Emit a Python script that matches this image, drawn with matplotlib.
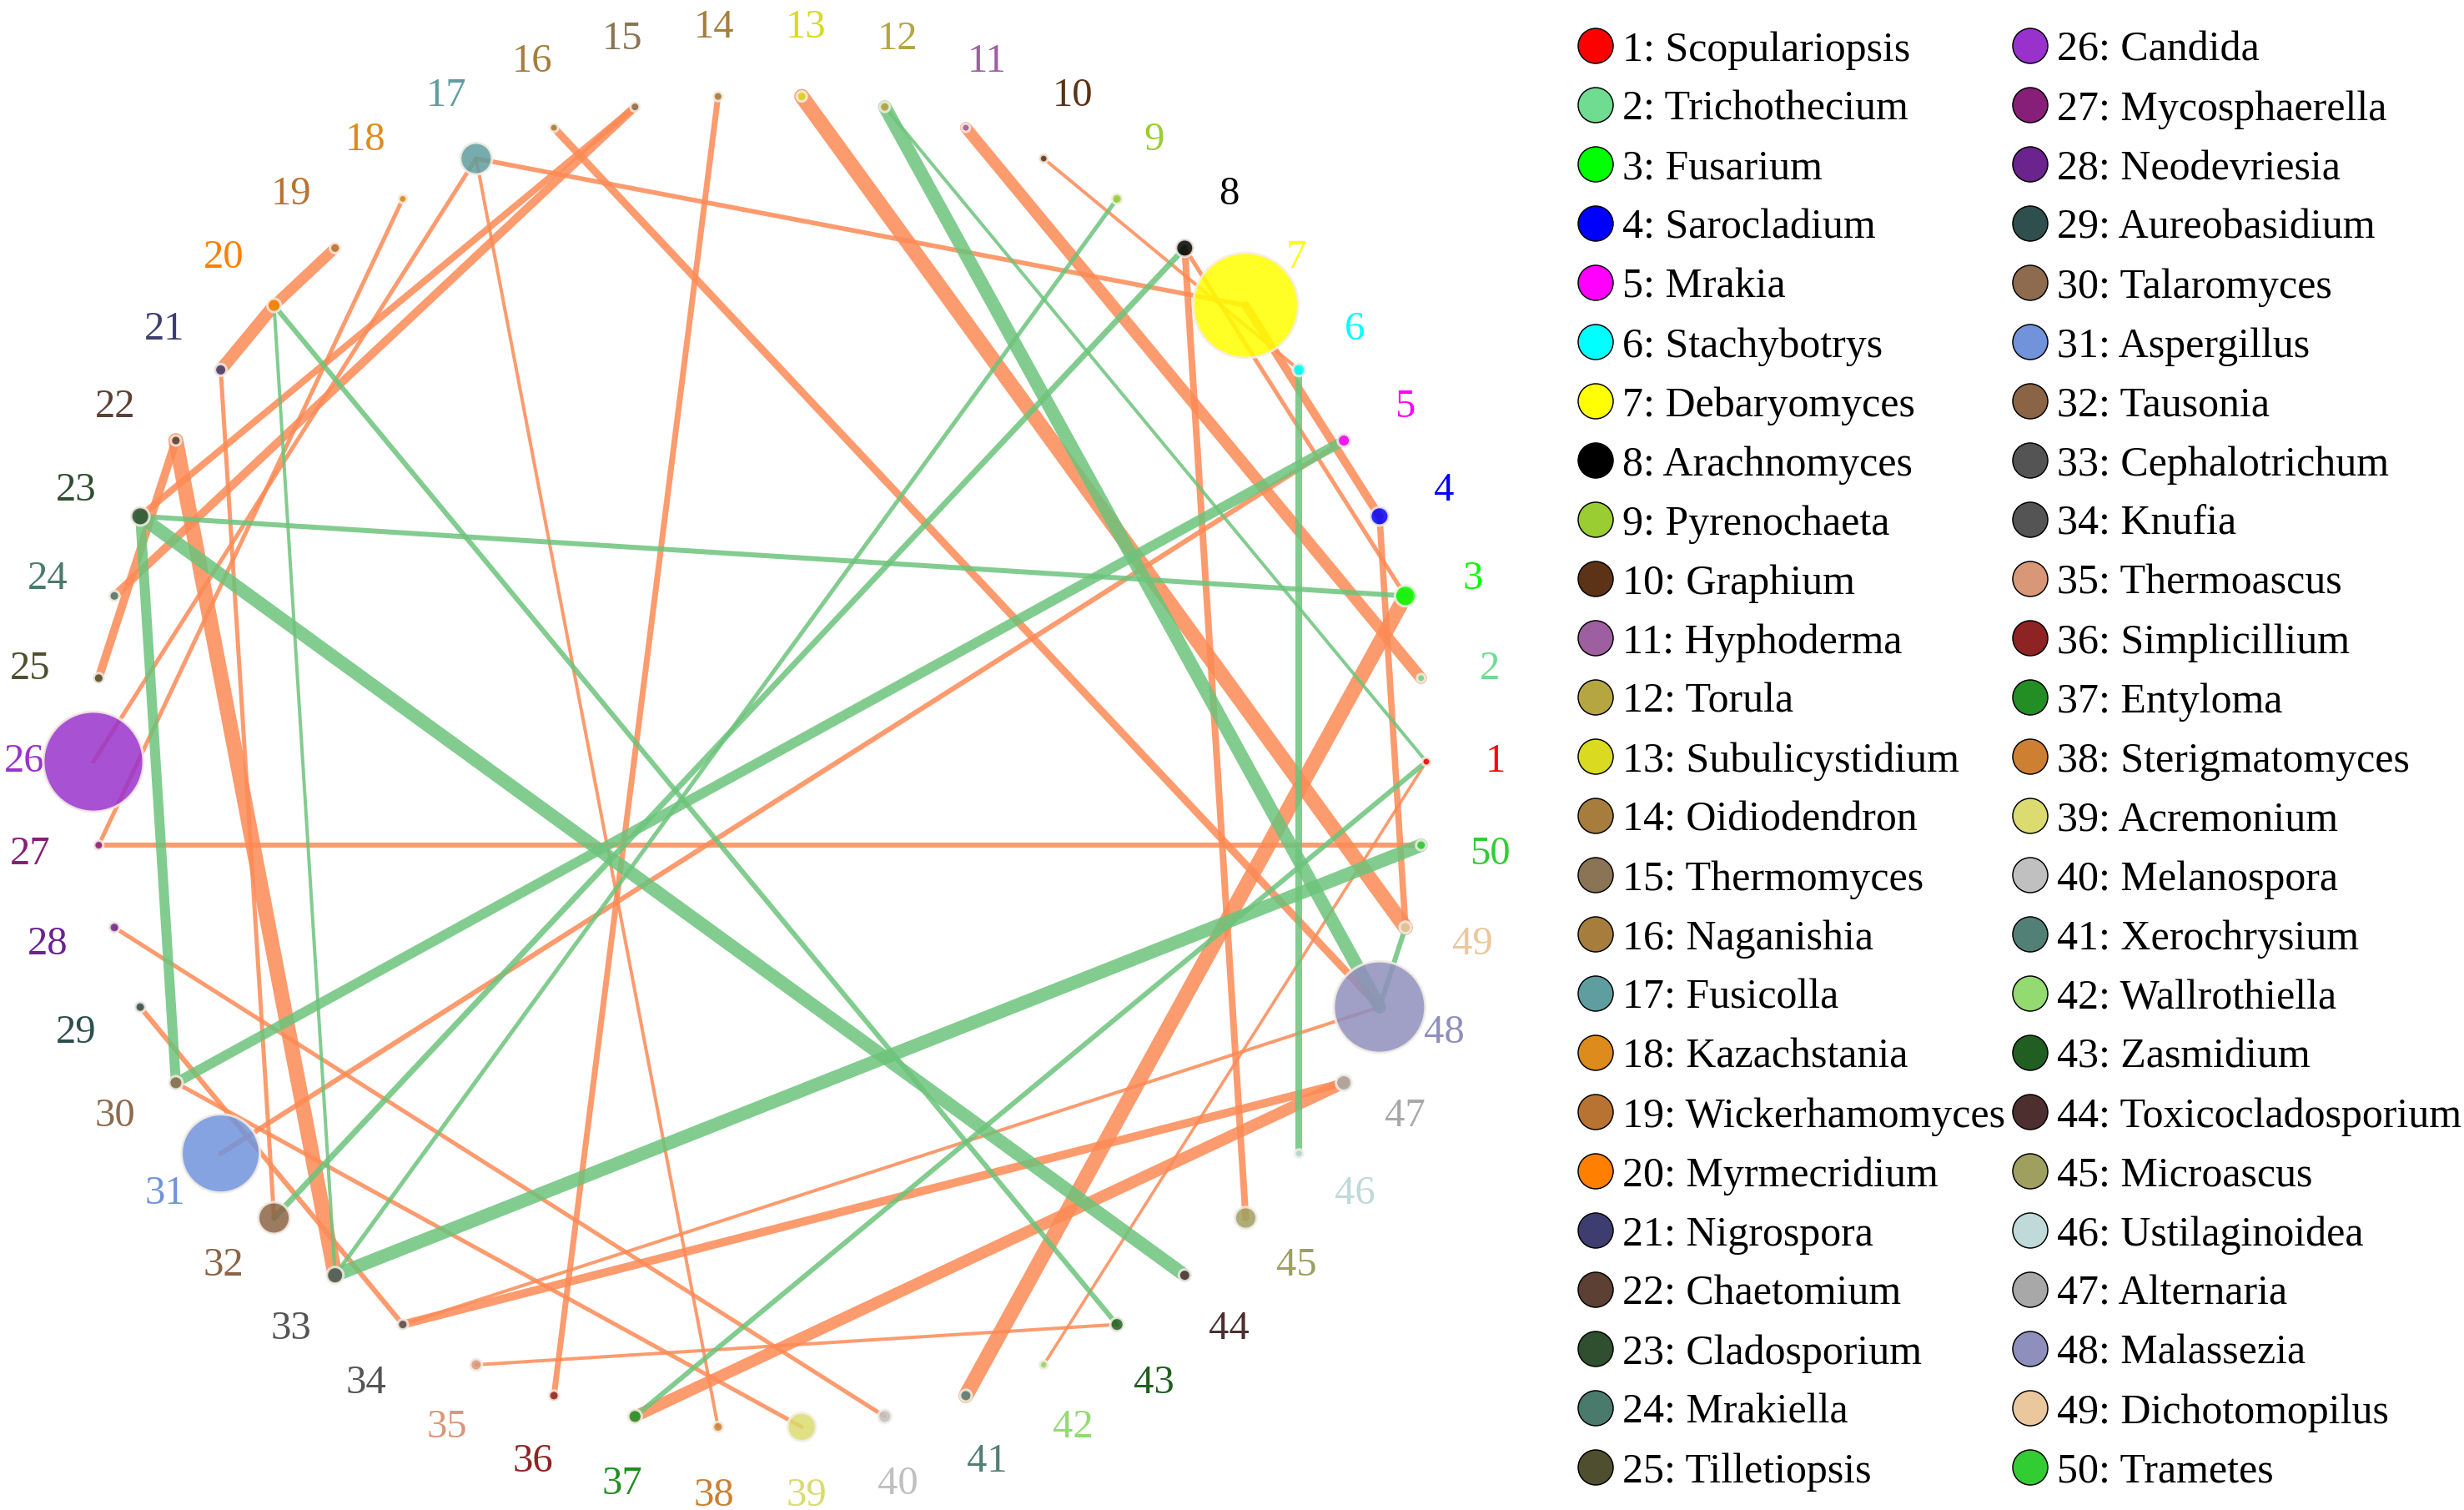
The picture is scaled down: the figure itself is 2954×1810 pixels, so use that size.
import numpy as np
import matplotlib.pyplot as plt
from matplotlib.patches import Circle

# genera, in the order they sit round the circle (1 = 3 o'clock, counter-clockwise)
genus = ["Scopulariopsis", "Trichothecium", "Fusarium", "Sarocladium", "Mrakia",
         "Stachybotrys", "Debaryomyces", "Arachnomyces", "Pyrenochaeta", "Graphium",
         "Hyphoderma", "Torula", "Subulicystidium", "Oidiodendron", "Thermomyces",
         "Naganishia", "Fusicolla", "Kazachstania", "Wickerhamomyces", "Myrmecridium",
         "Nigrospora", "Chaetomium", "Cladosporium", "Mrakiella", "Tilletiopsis",
         "Candida", "Mycosphaerella", "Neodevriesia", "Aureobasidium", "Talaromyces",
         "Aspergillus", "Tausonia", "Cephalotrichum", "Knufia", "Thermoascus",
         "Simplicillium", "Entyloma", "Sterigmatomyces", "Acremonium", "Melanospora",
         "Xerochrysium", "Wallrothiella", "Zasmidium", "Toxicocladosporium", "Microascus",
         "Ustilaginoidea", "Alternaria", "Malassezia", "Dichotomopilus", "Trametes"]

node_colors = ["#FF0000", "#6FDC91", "#00FF00", "#0000FF", "#FF00FF",
               "#00FFFF", "#FFFF00", "#000000", "#9ACD32", "#5C3317",
               "#9E5FA0", "#B5A642", "#DADA20", "#A67D3D", "#8B7355",
               "#A67D3D", "#5F9EA0", "#DC8B1C", "#B87333", "#FF7F00",
               "#3D3D70", "#5C4033", "#2F4F2F", "#4A7A6C", "#4F4F2F",
               "#9932CC", "#871F78", "#6B238E", "#2F4F4F", "#8E6B4F",
               "#7093DB", "#8B6445", "#545454", "#545454", "#D89878",
               "#8E2323", "#238E23", "#CD7F32", "#DBDB70", "#C0C0C0",
               "#527F76", "#93DB70", "#215E21", "#4E2F2F", "#9F9F5F",
               "#C0D9D9", "#A8A8A8", "#8F8FBD", "#EBC79E", "#32CD32"]

# relative abundance (node area)
abundance = [1.2, 1.2, 7.7, 6.0, 2.8, 2.8, 196, 5.4, 1.8, 1.2,
             1.2, 1.8, 1.8, 1.5, 1.5, 1.2, 17.8, 1.2, 1.8, 3.2,
             2.4, 1.8, 6.0, 1.8, 1.8, 178, 1.5, 1.8, 1.8, 3.2,
             109, 17.8, 4.9, 1.8, 2.4, 1.8, 3.2, 1.8, 14.3, 3.2,
             2.4, 1.2, 3.2, 2.4, 8.4, 1.2, 4.5, 149, 2.4, 1.8]

# positive correlations (source, target, strength)
pos_links = [(7, 17, 2.8), (7, 4, 5.0), (10, 6, 2.0), (8, 3, 2.5), (8, 45, 4.0),
             (11, 2, 7.0), (13, 49, 9.0), (14, 36, 3.5), (15, 23, 4.0), (15, 24, 5.0),
             (16, 48, 4.5), (17, 26, 2.5), (17, 38, 2.0), (18, 27, 2.5), (19, 20, 6.5),
             (20, 21, 7.5), (21, 32, 2.5), (22, 33, 9.0), (22, 25, 5.0), (27, 50, 3.0),
             (28, 40, 2.5), (29, 34, 3.0), (30, 39, 2.5), (31, 5, 3.0), (34, 48, 2.0),
             (34, 47, 5.0), (35, 43, 2.0), (37, 47, 7.0), (3, 41, 9.0), (4, 49, 3.8),
             (1, 42, 1.8)]

# negative correlations (source, target, strength)
neg_links = [(12, 48, 8.0), (12, 1, 2.0), (6, 46, 4.0), (8, 32, 3.5), (9, 33, 2.5),
             (20, 33, 2.0), (20, 43, 3.0), (23, 3, 3.0), (23, 44, 8.0), (23, 30, 6.0),
             (30, 5, 6.0), (33, 50, 8.0), (1, 37, 3.0), (49, 48, 3.0)]

W, H = 2954, 1810
fig = plt.figure(figsize=(W / 100, H / 100), dpi=100)
ax = fig.add_axes([0, 0, 1, 1])
ax.set_xlim(0, W)
ax.set_ylim(H, 0)
ax.axis('off')

n = len(genus)
cx, cy, R, R_lab = 911, 913, 799, 882
ang = np.deg2rad(np.arange(n) * 360.0 / n)
xs = cx + R * np.cos(ang)
ys = cy - R * np.sin(ang)

px = 72.0 / 100  # pixels -> points

for links, col in [(pos_links, '#FC8A55'), (neg_links, '#6CC47C')]:
    for a, b, w in links:
        ax.plot([xs[a - 1], xs[b - 1]], [ys[a - 1], ys[b - 1]], color=col,
                lw=2 * w * px, alpha=0.85, solid_capstyle='round', zorder=1)

# number labels round the circle
for i in range(n):
    ax.text(cx + R_lab * np.cos(ang[i]), cy - R_lab * np.sin(ang[i]), str(i + 1),
            color=node_colors[i], fontsize=35, family='Liberation Serif',
            ha='center', va='center', zorder=2)

for i in range(n):
    r = 4.5 * np.sqrt(abundance[i])
    ax.add_patch(Circle((xs[i], ys[i]), r, facecolor=node_colors[i],
                        edgecolor='#F4EEE6', lw=3 * px, alpha=0.85, zorder=3))

# legend, two columns
for i in range(n):
    col, row = divmod(i, 25)
    mx = [1913, 2434][col]
    my = 55 + 71 * row
    ax.add_patch(Circle((mx, my), 21, facecolor=node_colors[i],
                        edgecolor='black', lw=1.5 * px, zorder=3))
    ax.text(mx + 32, my, f"{i + 1}: {genus[i]}", fontsize=36,
            family='Liberation Serif', ha='left', va='center_baseline', zorder=3)

fig.savefig('out.png', dpi=100, facecolor='white')
